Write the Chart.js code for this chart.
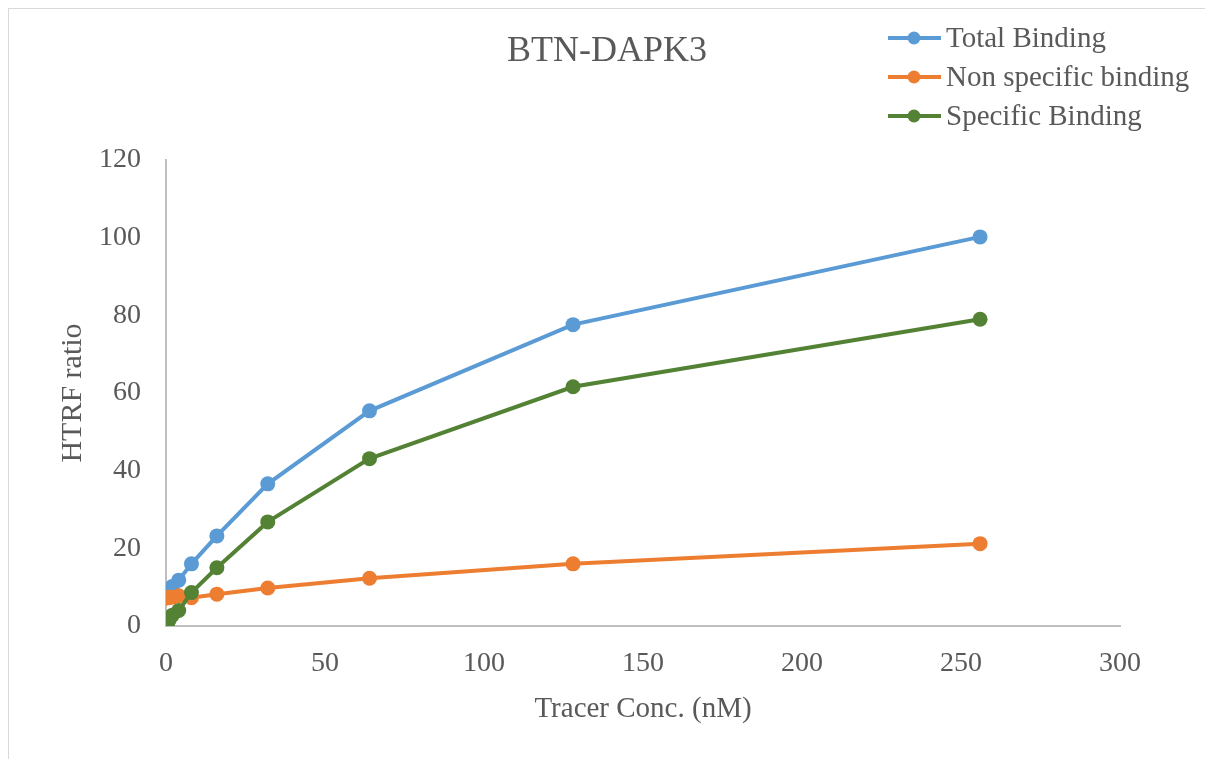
<!DOCTYPE html>
<html>
<head>
<meta charset="utf-8">
<script src="https://cdn.jsdelivr.net/npm/chart.js@4/dist/chart.umd.min.js"></script>
<style>
  html, body { margin: 0; padding: 0; background: #fff; }
  #wrap { width: 1205px; height: 759px; position: relative; }
</style>
</head>
<body>
<div id="wrap"><canvas id="myChart" width="1205" height="759"></canvas></div>
<script>
// tracer concentrations (nM)
const conc = [0.5, 1, 2, 4, 8, 16, 32, 64, 128, 256];
const totalBinding = [8.0, 9.0, 10.2, 11.8, 16.0, 23.2, 36.6, 55.4, 77.6, 100.2];
const nonSpecific = [7.2, 7.4, 7.4, 7.8, 7.3, 8.2, 9.8, 12.3, 16.0, 21.2];
const specificBinding = [0.8, 1.6, 2.8, 4.0, 8.6, 15.0, 26.8, 43.1, 61.6, 79.0];

const seriesNames = ['Total Binding', 'Non specific binding', 'Specific Binding'];
const colors = ['#5b9bd5', '#ed7d31', '#548235'];
const textColor = '#595959';
const serif = "'Liberation Serif', 'Times New Roman', serif";

function toPoints(values) {
    return conc.map((c, i) => ({ x: c, y: values[i] }));
}

function makeDataset(i, values, order) {
    return {
        label: seriesNames[i],
        data: toPoints(values),
        borderColor: colors[i],
        backgroundColor: colors[i],
        borderWidth: 4,
        pointRadius: 7.5,
        pointHoverRadius: 7.5,
        pointBorderWidth: 0,
        tension: 0,
        order: order
    };
}

// title, legend and outer frame
const decor = {
    id: 'decor',
    afterDraw(chart) {
        const ctx = chart.ctx;
        ctx.save();
        ctx.strokeStyle = '#d9d9d9';
        ctx.lineWidth = 1;
        ctx.strokeRect(8.5, 8.5, 1205, 759);

        ctx.fillStyle = textColor;
        ctx.font = `36px ${serif}`;
        ctx.textAlign = 'center';
        ctx.textBaseline = 'middle';
        ctx.fillText('BTN-DAPK3', 607, 52);

        ctx.font = `29px ${serif}`;
        ctx.textAlign = 'left';
        for (let i = 0; i < seriesNames.length; i++) {
            const y = 38 + i * 39;
            ctx.strokeStyle = colors[i];
            ctx.lineWidth = 4;
            ctx.beginPath();
            ctx.moveTo(888, y);
            ctx.lineTo(941, y);
            ctx.stroke();
            ctx.fillStyle = colors[i];
            ctx.beginPath();
            ctx.arc(914, y, 6.5, 0, Math.PI * 2);
            ctx.fill();
            ctx.fillStyle = textColor;
            ctx.fillText(seriesNames[i], 946, y + 1);
        }
        ctx.restore();
    }
};

const ctx = document.getElementById('myChart');
const myChart = new Chart(ctx, {
    type: 'line',
    data: {
        datasets: [
            makeDataset(0, totalBinding, 2),
            makeDataset(1, nonSpecific, 1),
            makeDataset(2, specificBinding, 0)
        ]
    },
    options: {
        responsive: false,
        animation: false,
        layout: {
            padding: { top: 160, right: 85, left: 0, bottom: 0 }
        },
        plugins: {
            legend: { display: false },
            title: { display: false },
            tooltip: { enabled: false }
        },
        scales: {
            x: {
                type: 'linear',
                min: 0,
                max: 300,
                grid: { display: false },
                border: { display: true, color: '#bfbfbf', width: 2 },
                ticks: {
                    stepSize: 50,
                    color: textColor,
                    font: { family: serif, size: 28 },
                    padding: 13
                },
                title: {
                    display: true,
                    text: 'Tracer Conc. (nM)',
                    color: textColor,
                    font: { family: serif, size: 29 },
                    padding: { top: 0, bottom: 32 }
                },
                afterFit(scale) {
                    scale.height = 133;
                }
            },
            y: {
                min: 0,
                max: 120,
                grid: { display: false },
                border: { display: true, color: '#bfbfbf', width: 2 },
                ticks: {
                    stepSize: 20,
                    color: textColor,
                    font: { family: serif, size: 28 },
                    padding: 17
                },
                title: {
                    display: true,
                    text: 'HTRF ratio',
                    color: textColor,
                    font: { family: serif, size: 30 },
                    padding: { top: 55, bottom: 0 }
                },
                afterFit(scale) {
                    scale.width = 166;
                }
            }
        }
    },
    plugins: [decor]
});
</script>
</body>
</html>
